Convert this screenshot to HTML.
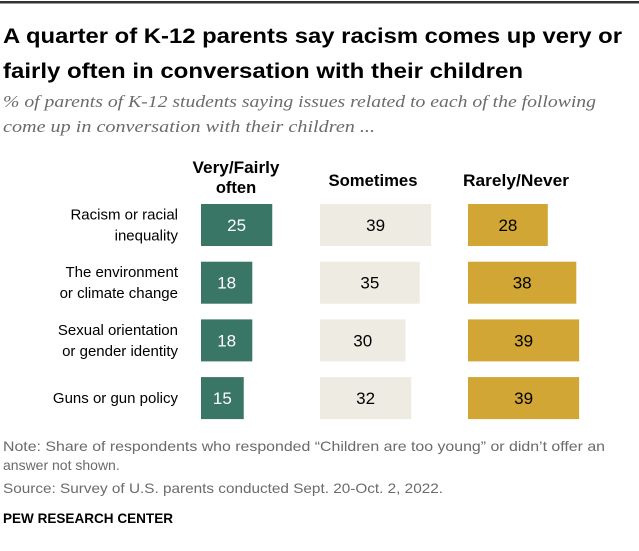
<!DOCTYPE html>
<html><head><meta charset="utf-8"><style>
html,body{margin:0;padding:0;background:#fff;}
svg{display:block;font-family:"Liberation Sans",sans-serif;}
</style></head><body>
<svg id="chart" width="639" height="551" viewBox="0 0 639 551">
<rect x="0" y="1" width="639" height="2.5" fill="#333"/>
<g font-weight="bold" font-size="21" fill="#000">
<text x="3" y="43" textLength="619" lengthAdjust="spacingAndGlyphs">A quarter of K-12 parents say racism comes up very or</text>
<text x="3" y="78" textLength="520" lengthAdjust="spacingAndGlyphs">fairly often in conversation with their children</text>
</g>
<g font-family="Liberation Serif,serif" font-style="italic" font-size="17" fill="#6b6b6b">
<text x="3" y="107" textLength="593" lengthAdjust="spacingAndGlyphs">% of parents of K-12 students saying issues related to each of the following</text>
<text x="3" y="132" textLength="372" lengthAdjust="spacingAndGlyphs">come up in conversation with their children ...</text>
</g>
<g font-weight="bold" font-size="16.5" fill="#000" text-anchor="middle">
<text x="236" y="173" textLength="87" lengthAdjust="spacingAndGlyphs">Very/Fairly</text>
<text x="236" y="193">often</text>
<text x="373" y="186" textLength="89" lengthAdjust="spacingAndGlyphs">Sometimes</text>
<text x="516" y="186" textLength="106" lengthAdjust="spacingAndGlyphs">Rarely/Never</text>
</g>
<g id="rows"></g>
<g font-size="14" fill="#6b6b6b">
<text x="3" y="451" textLength="602" lengthAdjust="spacingAndGlyphs">Note: Share of respondents who responded “Children are too young” or didn’t offer an</text>
<text x="3" y="470">answer not shown.</text>
<text x="3" y="493" textLength="440" lengthAdjust="spacingAndGlyphs">Source: Survey of U.S. parents conducted Sept. 20-Oct. 2, 2022.</text>
</g>
<text x="3" y="523" font-size="14" font-weight="bold" fill="#000" textLength="170" lengthAdjust="spacingAndGlyphs">PEW RESEARCH CENTER</text>
</svg>
<script>
const categories = [["Racism or racial","inequality"],["The environment","or climate change"],["Sexual orientation","or gender identity"],["Guns or gun policy"]];
const veryOften = [25,18,18,15];
const sometimes = [39,35,30,32];
const rarely = [28,38,39,39];
const series = [veryOften, sometimes, rarely];
const seriesNames = ["very-fairly-often","sometimes","rarely-never"];
const starts = [201,320,468];
const fills = ["#3a7665","#eeebe3","#d1a634"];
const textFills = ["#fff","#000","#000"];
const unit = 2.85;
const x = v => v*unit;
const rowY = i => 204 + i*57.7;
const barH = 42;
const NS = "http://www.w3.org/2000/svg";
const g = document.getElementById('rows');
categories.forEach((cat,i)=>{
  const y = rowY(i);
  const lab = document.createElementNS(NS,'text');
  
  
  lab.setAttribute('text-anchor','end');
  lab.setAttribute('font-size','15');
  lab.setAttribute('fill','#000');
  const lines = cat.length;
  cat.forEach((t,k)=>{
    const ts = document.createElementNS(NS,'tspan');
    ts.setAttribute('x',178);
    ts.setAttribute('y', y + barH/2 + 5 + (k-(lines-1)/2)*21);
    ts.textContent = t;
    lab.appendChild(ts);
  });
  g.appendChild(lab);
  series.forEach((s,j)=>{
    const r = document.createElementNS(NS,'rect');
    
    
    r.setAttribute('x',starts[j]); r.setAttribute('y',y);
    r.setAttribute('width',x(s[i])); r.setAttribute('height',barH);
    r.setAttribute('fill',fills[j]);
    g.appendChild(r);
    const t = document.createElementNS(NS,'text');
    
    
    t.setAttribute('x',starts[j]+x(s[i])/2); t.setAttribute('y',y+barH/2+6);
    t.setAttribute('text-anchor','middle'); t.setAttribute('font-size','17');
    t.setAttribute('fill',textFills[j]);
    t.textContent = s[i];
    g.appendChild(t);
  });
});
</script>
</body></html>
